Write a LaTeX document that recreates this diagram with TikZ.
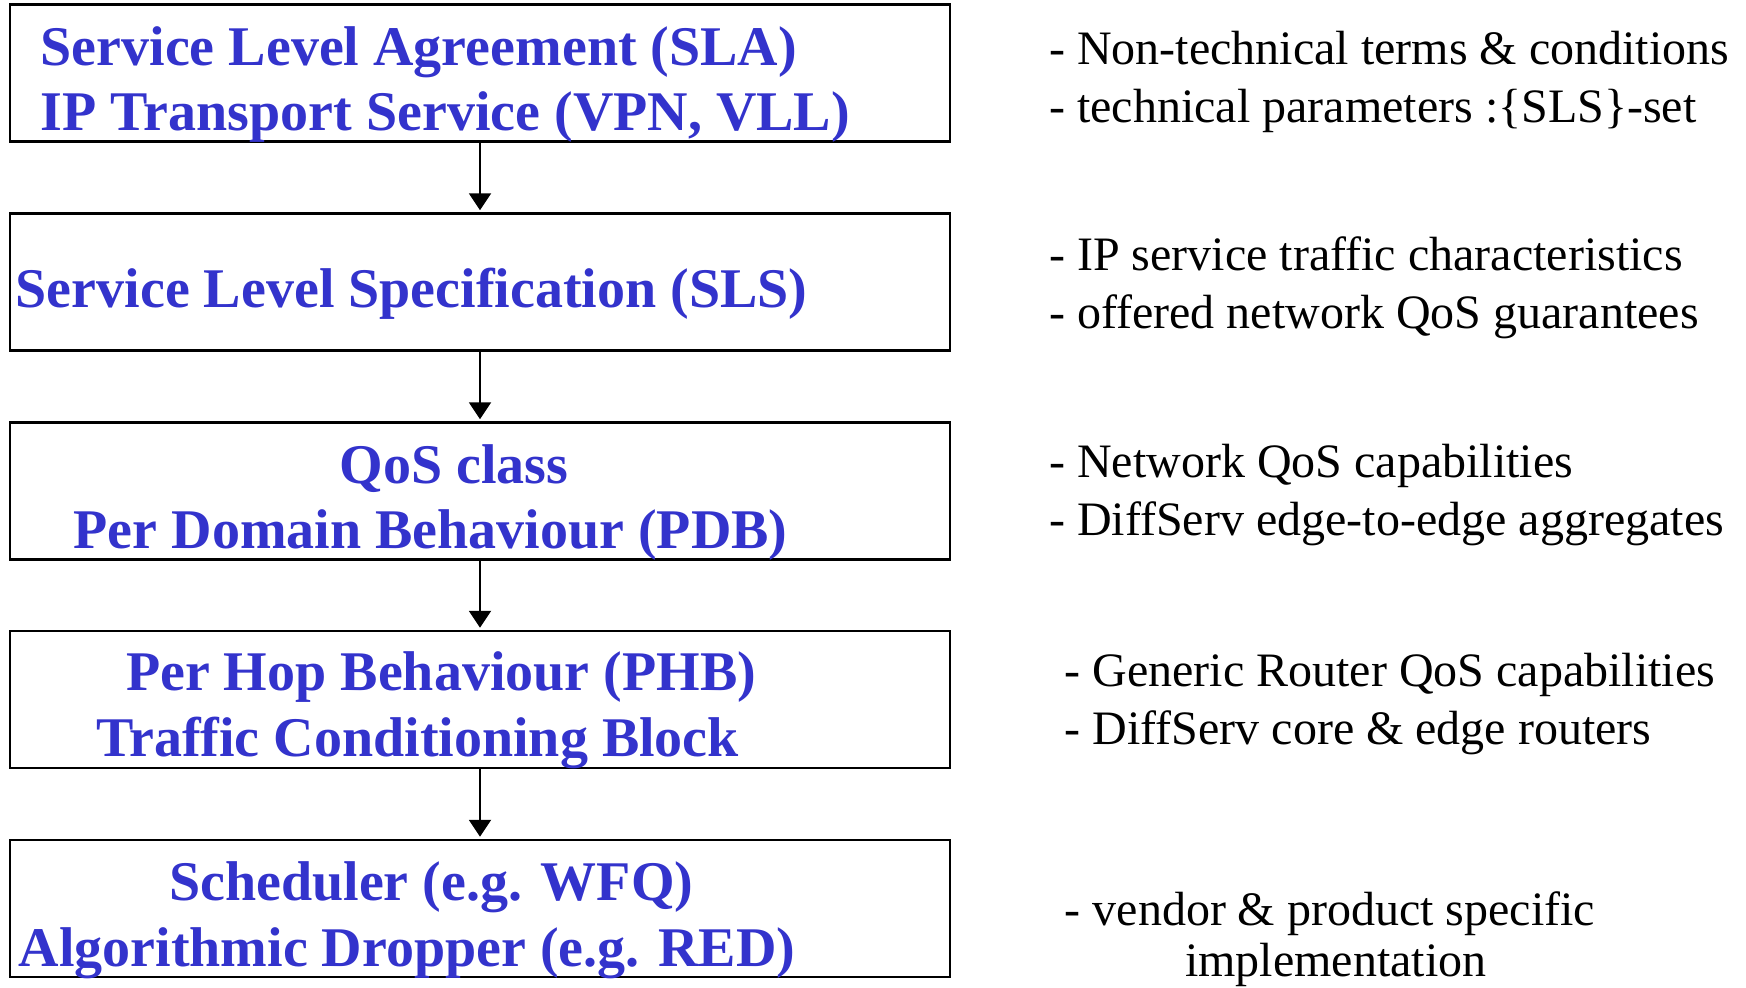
\documentclass[tikz,border=0pt]{standalone}
\usepackage{fontspec}
\setmainfont{Liberation Serif}
\usetikzlibrary{arrows.meta}
\definecolor{titleblue}{RGB}{51,51,204}
\begin{document}
\begin{tikzpicture}[x=1pt,y=-1pt,
  layerbox/.style={draw=black, line width=2.5pt, minimum width=940pt, minimum height=137pt, inner sep=0pt},
  title/.style={anchor=base west, inner sep=0pt, text=titleblue, font=\fontsize{56}{67}\selectfont\bfseries},
  note/.style={anchor=base west, inner sep=0pt, text=black, font=\fontsize{48}{58}\selectfont},
  flow/.style={-{Triangle[width=22pt,length=17pt]}, line width=2pt, shorten >=2pt}]
\useasboundingbox (0,0) rectangle (1746,988);
% boxes
\node[layerbox] (b1) at (480,73) {};
\node[layerbox] (b2) at (480,282) {};
\node[layerbox] (b3) at (480,491) {};
\node[layerbox] (b4) at (480,699.5) {};
\node[layerbox] (b5) at (480,908.5) {};
% arrows
\draw[flow] (b1.south) -- (b2.north);
\draw[flow] (b2.south) -- (b3.north);
\draw[flow] (b3.south) -- (b4.north);
\draw[flow] (b4.south) -- (b5.north);
% box texts
\node[title] (t1a) at (40.5,65.7) {Service Level Agreement (SLA)};
\node[title] (t1b) at (40.5,130.7) {IP Transport Service (VPN, VLL)};
\node[title] (t2) at (15.6,307) {Service Level Specification (SLS)};
\node[title] (t3a) at (339.6,483) {QoS class};
\node[title] (t3b) at (73.5,548.5) {Per Domain Behaviour (PDB)};
\node[title] (t4a) at (125.8,690) {Per Hop Behaviour (PHB)};
\node[title] (t4b) at (95.8,756) {Traffic Conditioning Block};
\node[title] (t5a) at (169,900.7) {Scheduler (e.g. WFQ)};
\node[title] (t5b) at (18.5,966.7) {Algorithmic Dropper (e.g. RED)};
% notes
\node[note] (n1a) at (1049,64.6) {- Non-technical terms \& conditions};
\node[note] (n1b) at (1049,122.5) {- technical parameters :\{SLS\}-set};
\node[note] (n2a) at (1049,270.6) {- IP service traffic characteristics};
\node[note] (n2b) at (1049,328.5) {- offered network QoS guarantees};
\node[note] (n3a) at (1049,477.7) {- Network QoS capabilities};
\node[note] (n3b) at (1049,535.6) {- DiffServ edge-to-edge aggregates};
\node[note] (n4a) at (1064.5,686) {- Generic Router QoS capabilities};
\node[note] (n4b) at (1064.5,744) {- DiffServ core \& edge routers};
\node[note] (n5a) at (1064.5,925) {- vendor \& product specific};
\node[note] (n5b) at (1185,976.5) {implementation};
\end{tikzpicture}
\end{document}
